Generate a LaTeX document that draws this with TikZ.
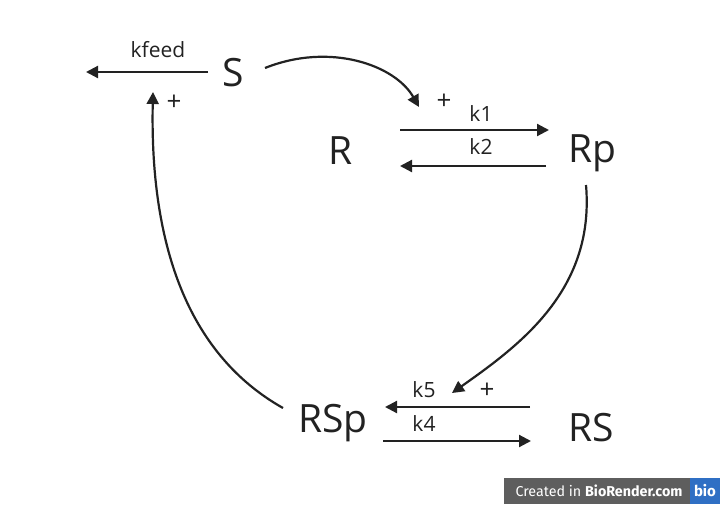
\documentclass[tikz,border=0pt]{standalone}
\usepackage{fontspec}
\setmainfont{Open Sans}
\newfontfamily\badgefont{Fira Sans}
\usetikzlibrary{arrows.meta}
\definecolor{badgegray}{HTML}{5E5E5E}
\definecolor{badgeblue}{HTML}{2F6FC4}
\definecolor{ink}{HTML}{222222}
\begin{document}
\begin{tikzpicture}[x=1pt,y=-1pt,
  species/.style={font=\fontsize{39}{41}\selectfont,text=ink,inner sep=0pt},
  ratelbl/.style={font=\fontsize{21}{23}\selectfont,text=ink,inner sep=0pt},
  plus/.style={font=\fontsize{26}{28}\selectfont,text=ink,inner sep=0pt},
  flow/.style={draw=ink,line width=2.2pt,-{Triangle[length=12pt,width=12pt]}}]
\useasboundingbox (0,0) rectangle (720,504);
% species
\node[species] (S) at (233,73) {S};
\node[species] (R) at (341,151) {R};
\node[species] (Rp) at (592,153) {Rp};
\node[species] (RSp) at (333,423) {RSp};
\node[species] (RS) at (591,428) {RS};
% free ends
\coordinate (kfs) at (208,72);
\coordinate (kfe) at (86,72);
\coordinate (k1s) at (400,130);
\coordinate (k1e) at (549,130);
\coordinate (k2s) at (546,166);
\coordinate (k2e) at (400,166);
\coordinate (k5s) at (530,407);
\coordinate (k5e) at (385,407);
\coordinate (k4s) at (383,441);
\coordinate (k4e) at (531,441);
\coordinate (Sfb) at (153,92);
\coordinate (Sarr) at (419,107);
\coordinate (Rparr) at (452,393);
% straight reactions
\draw[flow] (kfs) -- (kfe);
\draw[flow] (k1s) -- (k1e);
\draw[flow] (k2s) -- (k2e);
\draw[flow] (k5s) -- (k5e);
\draw[flow] (k4s) -- (k4e);
% curves
\draw[flow] (265,68) .. controls (330,42) and (395,65) .. (Sarr);
\draw[flow] (586,185) .. controls (595,290) and (520,345) .. (Rparr);
\draw[flow] (283,408) .. controls (180,350) and (150,230) .. (Sfb);
% labels
\node[ratelbl] (lkfeed) at (158,50) {kfeed};
\node[ratelbl] (lk1) at (481,114) {k1};
\node[ratelbl] (lk2) at (481,147) {k2};
\node[ratelbl] (lk5) at (424,390) {k5};
\node[ratelbl] (lk4) at (424,424) {k4};
\node[plus] (p1) at (174,103) {+};
\node[plus] (p2) at (444,102) {+};
\node[plus] (p3) at (487,391) {+};
% badge
\fill[badgegray] (504,478) rectangle (690,504);
\fill[badgeblue] (690,478) rectangle (720,504);
\node[inner sep=0pt,text=white,font=\badgefont\fontsize{14.3}{16}\selectfont] (badge) at (599,491) {Created in \textbf{BioRender.com}};
\node[inner sep=0pt,text=white,font=\badgefont\bfseries\fontsize{15}{16}\selectfont] (bio) at (705,491) {bio};
\end{tikzpicture}
\end{document}
